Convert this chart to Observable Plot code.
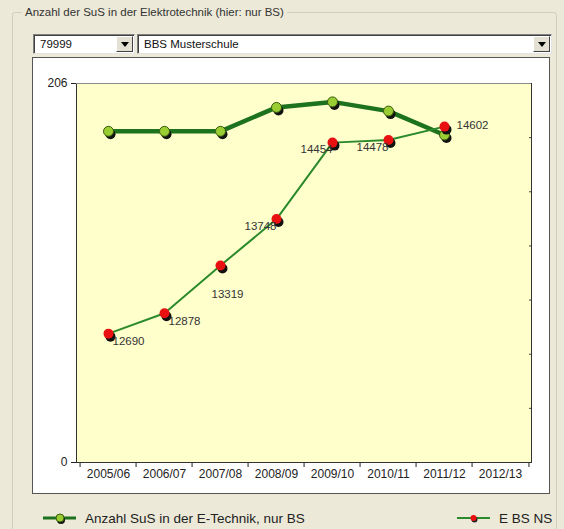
<!DOCTYPE html>
<html>
<head>
<meta charset="utf-8">
<script src="https://cdn.jsdelivr.net/npm/d3@7"></script>
<script src="https://cdn.jsdelivr.net/npm/@observablehq/plot@0.6"></script>
<style>
  html, body { margin: 0; padding: 0; }
  body {
    width: 564px; height: 529px; position: relative; overflow: hidden;
    background: #ece9d8;
    font-family: "Liberation Sans", Arial, sans-serif;
  }
  .group {
    position: absolute; left: 12px; top: 12px; width: 543px; height: 560px;
    border: 1px solid #d0d0bf; border-radius: 3px;
  }
  .group-title {
    position: absolute; left: 22px; top: 5px; padding: 0 3px;
    background: #ece9d8; color: #333; font-size: 11.5px; line-height: 14px;
  }
  .combo {
    position: absolute; top: 34px; height: 20px; box-sizing: border-box;
    background: #fff; color: #111; font-size: 11.5px; line-height: 18px;
    padding-left: 6px;
    border: 1px solid; border-color: #808080 #e4e4e4 #e4e4e4 #808080;
    box-shadow: inset 1px 1px 0 #404040;
  }
  .combo .btn {
    position: absolute; right: 1px; top: 1px; width: 17px; height: 16px;
    box-sizing: border-box; background: #e4e1d4;
    border: 1px solid; border-color: #fff #404040 #404040 #fff;
  }
  .combo .btn::after {
    content: ""; position: absolute; left: 4px; top: 5px;
    border-left: 4px solid transparent; border-right: 4px solid transparent;
    border-top: 5px solid #000;
  }
  #panel {
    position: absolute; left: 32px; top: 57px; width: 516px; height: 435px;
    border: 1px solid #555; background: #fff;
  }
  #panel svg { display: block; }
  .legend-item {
    position: absolute; top: 510px; height: 16px;
    display: flex; align-items: center; color: #222; font-size: 13.5px;
  }
  .legend-item svg { margin-right: 9px; overflow: visible; }
</style>
</head>
<body>
<div class="group"></div>
<div class="group-title">Anzahl der SuS in der Elektrotechnik (hier: nur BS)</div>
<div class="combo" style="left:33px;width:102px">79999<div class="btn"></div></div>
<div class="combo" style="left:137px;width:415px">BBS Musterschule<div class="btn"></div></div>
<div id="panel"></div>

<div class="legend-item" style="left:43px">
  <svg width="33" height="12">
    <line x1="0" y1="6" x2="33" y2="6" stroke="#1d721d" stroke-width="3"></line>
    <circle cx="18" cy="8" r="4" fill="#111"></circle>
    <circle cx="17" cy="6" r="4" fill="#9acd32" stroke="#3a5a10"></circle>
  </svg>
  <span>Anzahl SuS in der E-Technik, nur BS</span>
</div>
<div class="legend-item" style="left:457px">
  <svg width="33" height="12">
    <line x1="0" y1="6" x2="33" y2="6" stroke="#2b8a2b" stroke-width="2"></line>
    <circle cx="17.5" cy="7.5" r="3" fill="#222"></circle>
    <circle cx="16.5" cy="6" r="3" fill="#e81010"></circle>
  </svg>
  <span>E BS NS</span>
</div>

<script>
// School years on the x axis
const categories = ["2005/06", "2006/07", "2007/08", "2008/09", "2009/10", "2010/11", "2011/12", "2012/13"];

// Anzahl SuS in der E-Technik, nur BS (left axis)
const students = [180, 180, 180, 193, 196, 191, 178];

// E BS NS (secondary axis on the right)
const ebsns = [12690, 12878, 13319, 13748, 14454, 14478, 14602];

// Left axis labels
const leftTicks = [0, 206];

// Secondary axis ticks (unlabelled, right side)
const rightTicks = [11500, 12000, 12500, 13000, 13500, 14000, 14500, 15000];

// Where each E BS NS value label sits relative to its point
const labelPlacement = ["br", "br", "b", "bl", "bl", "bl", "r"];

const leftMax = leftTicks[leftTicks.length - 1];
const rightMin = rightTicks[0];
const rightMax = rightTicks[rightTicks.length - 1];
// Map a secondary-axis value onto the shared y scale
const toLeft = v => (v - rightMin) / (rightMax - rightMin) * leftMax;

const rows = students.map((s, i) => ({
  year: categories[i],
  students: s,
  ns: ebsns[i],
  place: labelPlacement[i]
}));

const W = 516, H = 435;
const margin = {left: 43, right: 18, top: 25, bottom: 31};
const step = (W - margin.left - margin.right) / categories.length;

const placementStyle = {
  br: {dx: 4, dy: 8, textAnchor: "start"},
  b: {dx: 7, dy: 29, textAnchor: "middle"},
  bl: {dx: 0, dy: 7, textAnchor: "end"},
  r: {dx: 12, dy: -1, textAnchor: "start"}
};

const labelMarks = Object.entries(placementStyle).map(([key, s]) =>
  Plot.text(rows.filter(d => d.place === key), {
    x: "year", y: d => toLeft(d.ns), text: d => String(d.ns),
    fill: "#333", fontSize: 11.5, ...s
  })
);

const chart = Plot.plot({
  width: W, height: H,
  marginLeft: margin.left, marginRight: margin.right,
  marginTop: margin.top, marginBottom: margin.bottom,
  style: {background: "#fff", fontFamily: "'Liberation Sans', Arial, sans-serif", fontSize: "12px", color: "#222"},
  x: {type: "point", domain: categories, padding: 0.5},
  y: {domain: [0, leftMax]},
  marks: [
    Plot.frame({fill: "#ffffcc", stroke: null}),
    Plot.axisY({ticks: leftTicks, tickSize: 5, tickPadding: 4, label: null}),
    // secondary-axis ticks point into the plot area
    Plot.axisY({anchor: "right", ticks: rightTicks.map(toLeft), tickSize: 3, dx: -3, tickFormat: () => "", label: null, stroke: "#444"}),
    Plot.axisX({ticks: categories, tickSize: 0, tickPadding: 7, label: null}),
    Plot.axisX({ticks: categories, tickSize: 5, dx: -step / 2, tickFormat: () => "", label: null}),
    Plot.axisX({ticks: categories.slice(-1), tickSize: 5, dx: step / 2, tickFormat: () => "", label: null}),
    Plot.frame({stroke: "#333"}),
    Plot.ruleY([leftMax], {stroke: "#8a8a8a"}),
    Plot.lineY(rows, {x: "year", y: "students", stroke: "#1d721d", strokeWidth: 4.5}),
    Plot.lineY(rows, {x: "year", y: d => toLeft(d.ns), stroke: "#2b8a2b", strokeWidth: 2}),
    Plot.dot(rows, {x: "year", y: "students", r: 5, fill: "#111", dx: 2, dy: 3}),
    Plot.dot(rows, {x: "year", y: "students", r: 5, fill: "#9acd32", stroke: "#3a5a10", strokeWidth: 1}),
    Plot.dot(rows, {x: "year", y: d => toLeft(d.ns), r: 5, fill: "#111", dx: 2, dy: 3}),
    Plot.dot(rows, {x: "year", y: d => toLeft(d.ns), r: 5, fill: "#e81010"}),
    ...labelMarks
  ]
});

document.getElementById("panel").append(chart);
</script>
</body>
</html>
